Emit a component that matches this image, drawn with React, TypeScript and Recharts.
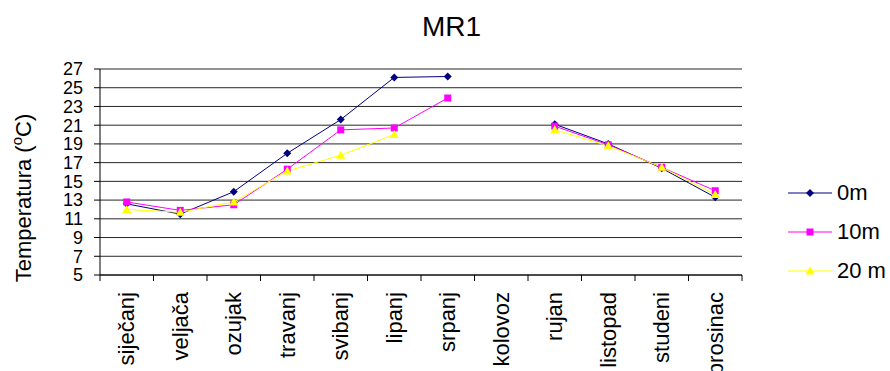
import { CartesianGrid, Line, LineChart, XAxis, YAxis } from "recharts";

const months = [
  "siječanj",
  "veljača",
  "ozujak",
  "travanj",
  "svibanj",
  "lipanj",
  "srpanj",
  "kolovoz",
  "rujan",
  "listopad",
  "studeni",
  "prosinac",
];
const temp0m = [12.6, 11.5, 13.9, 18.0, 21.6, 26.1, 26.2, null, 21.1, 19.0, 16.4, 13.3];
const temp10m = [12.8, 11.9, 12.5, 16.3, 20.5, 20.7, 23.9, null, 20.9, 18.9, 16.5, 14.0];
const temp20m = [12.0, 11.7, 12.8, 16.1, 17.8, 20.0, null, null, 20.5, 18.8, 16.5, 13.6];
const yTicks = [5, 7, 9, 11, 13, 15, 17, 19, 21, 23, 25, 27];

const data = months.map((m, i) => ({ m, a: temp0m[i], b: temp10m[i], c: temp20m[i] }));

const FONT = '"Liberation Sans", Arial, sans-serif';
const W = 890;
const H = 371;
const M = { top: 69, right: 148, bottom: 0, left: 0 };
const X_H = 96;
const Y_W = 100;
const HALF_BAND = (W - M.right - M.left - Y_W) / months.length / 2;

const Diamond = (p: any) =>
  p.cx == null || p.cy == null ? null : (
    <path
      key={p.key}
      d={`M${p.cx},${p.cy - 4}L${p.cx + 4},${p.cy}L${p.cx},${p.cy + 4}L${p.cx - 4},${p.cy}Z`}
      fill="#000080"
    />
  );
const Square = (p: any) =>
  p.cx == null || p.cy == null ? null : (
    <rect key={p.key} x={p.cx - 3.5} y={p.cy - 3.5} width={7} height={7} fill="#FF00FF" />
  );
const Triangle = (p: any) =>
  p.cx == null || p.cy == null ? null : (
    <path
      key={p.key}
      d={`M${p.cx},${p.cy - 4.5}L${p.cx + 4.5},${p.cy + 3.5}L${p.cx - 4.5},${p.cy + 3.5}Z`}
      fill="#FFFF00"
    />
  );

// category labels sit in the middle of each band, ticks go on the band edges
function MonthTick(props: any) {
  const { x, y, payload, index } = props;
  return (
    <g>
      <line x1={x - HALF_BAND} x2={x - HALF_BAND} y1={y - 6} y2={y} stroke="#000" />
      {index === months.length - 1 && (
        <line x1={x + HALF_BAND} x2={x + HALF_BAND} y1={y - 6} y2={y} stroke="#000" />
      )}
      <text
        x={x}
        y={y + 11}
        transform={`rotate(-90 ${x} ${y + 11})`}
        textAnchor="end"
        dy="0.35em"
        fontSize={22}
        fontFamily={FONT}
        fill="#000"
      >
        {payload.value}
      </text>
    </g>
  );
}

const legendItems = [
  { name: "0m", color: "#000080", shape: "diamond" },
  { name: "10m", color: "#FF00FF", shape: "square" },
  { name: "20 m", color: "#FFFF00", shape: "triangle" },
];

function LegendBox() {
  return (
    <div style={{ position: "absolute", left: 786, top: 180, fontFamily: FONT, fontSize: 22 }}>
      {legendItems.map((it) => (
        <div key={it.name} style={{ display: "flex", alignItems: "center", height: 26, marginBottom: 13 }}>
          <svg width={48} height={12}>
            <line x1={2} x2={46} y1={6} y2={6} stroke={it.color} />
            {it.shape === "diamond" && <path d="M24,2L28,6L24,10L20,6Z" fill={it.color} />}
            {it.shape === "square" && <rect x={20.5} y={2.5} width={7} height={7} fill={it.color} />}
            {it.shape === "triangle" && <path d="M24,1.5L28.5,9.5L19.5,9.5Z" fill={it.color} />}
          </svg>
          <span style={{ marginLeft: 3 }}>{it.name}</span>
        </div>
      ))}
    </div>
  );
}

const YLabel = () => (
  <text
    x={31}
    y={198}
    transform="rotate(-90 31 198)"
    textAnchor="middle"
    fontSize={22}
    fontFamily={FONT}
    fill="#000"
  >
    Temperatura (
    <tspan dy={-9} fontSize={15}>
      o
    </tspan>
    <tspan dy={9}>C)</tspan>
  </text>
);

export default function App() {
  return (
    <div style={{ position: "absolute", left: 0, top: 0, width: W, height: H, background: "#fff" }}>
      <div
        style={{
          position: "absolute",
          left: 0,
          width: 903,
          top: 13,
          textAlign: "center",
          fontFamily: FONT,
          fontSize: 28,
          lineHeight: "28px",
        }}
      >
        MR1
      </div>
      <LineChart width={W} height={H} data={data} margin={M}>
        <CartesianGrid vertical={false} stroke="#000" strokeOpacity={0.85} />
        <XAxis
          dataKey="m"
          interval={0}
          height={X_H}
          padding={{ left: HALF_BAND, right: HALF_BAND }}
          tickLine={false}
          tickSize={6}
          tickMargin={0}
          axisLine={{ stroke: "#000" }}
          tick={<MonthTick />}
        />
        <YAxis
          domain={[5, 27]}
          ticks={yTicks}
          interval={0}
          width={Y_W}
          tickSize={6}
          tickMargin={11}
          axisLine={{ stroke: "#000" }}
          tickLine={{ stroke: "#000" }}
          tick={{ fill: "#000", fontSize: 18, fontFamily: FONT }}
          label={{ content: <YLabel /> }}
        />
        {/* grey right border of the plot area */}
        <YAxis
          yAxisId="frame"
          orientation="right"
          domain={[5, 27]}
          width={0}
          tick={false}
          tickLine={false}
          axisLine={{ stroke: "#808080" }}
        />
        <Line dataKey="a" name="0m" stroke="#000080" strokeWidth={1} dot={Diamond} activeDot={false} isAnimationActive={false} />
        <Line dataKey="b" name="10m" stroke="#FF00FF" strokeWidth={1} dot={Square} activeDot={false} isAnimationActive={false} />
        <Line dataKey="c" name="20 m" stroke="#FFFF00" strokeWidth={1} dot={Triangle} activeDot={false} isAnimationActive={false} />
      </LineChart>
      <LegendBox />
    </div>
  );
}
